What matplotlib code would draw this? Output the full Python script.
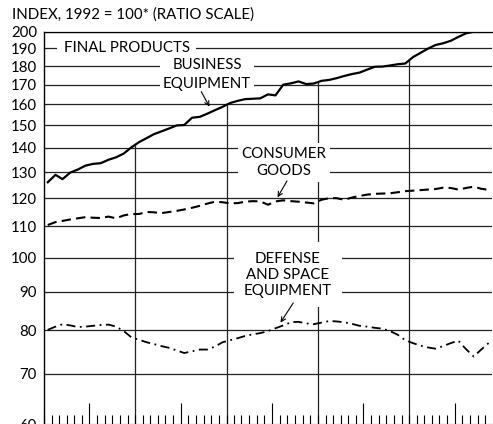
import numpy as np
import pandas as pd
import matplotlib
matplotlib.use('Agg')
from matplotlib import pyplot as plt
import matplotlib.dates as mdates
from matplotlib.ticker import FixedLocator, NullLocator, FixedFormatter

plt.rcParams['font.family'] = ['Lato', 'DejaVu Sans']

# monthly data, Jan 1993 - Nov 1997 (index, 1992 = 100)
dates = pd.date_range('1993-01-01', '1997-11-01', freq='MS') + pd.Timedelta(days=15)

business = [126.0, 128.9, 127.2, 129.8, 131.0, 132.6, 133.3, 133.6, 135.0, 136.0,
            137.6, 140.2, 142.5, 144.3, 146.0, 147.3, 148.6, 150.0, 150.2, 153.6,
            154.0, 155.5, 157.2, 158.8, 160.7, 161.8, 162.6, 162.8, 163.0, 165.0,
            164.5, 170.0, 170.7, 171.7, 170.3, 170.6, 172.0, 172.5, 173.4, 174.6,
            175.6, 176.4, 178.0, 179.6, 179.7, 180.3, 181.0, 181.4, 185.0, 187.5,
            189.8, 192.0, 193.0, 194.5, 196.8, 199.0, 200.0, 200.0, 200.0]

consumer = [110.5, 111.5, 111.9, 112.4, 112.8, 113.2, 113.0, 112.9, 113.4, 112.8,
            113.8, 114.3, 114.3, 115.0, 114.9, 114.6, 115.0, 115.4, 115.9, 116.5,
            117.2, 118.0, 118.7, 118.5, 118.1, 118.2, 118.7, 118.9, 118.8, 117.6,
            118.8, 119.2, 118.9, 118.7, 118.4, 118.1, 119.4, 120.0, 120.0, 119.4,
            120.2, 120.8, 121.3, 121.6, 121.7, 121.8, 122.2, 122.6, 122.8, 123.0,
            123.2, 123.4, 123.9, 123.8, 123.2, 123.8, 124.3, 123.5, 123.1]

defense = [80.1, 80.9, 81.5, 81.2, 80.8, 80.9, 81.1, 81.3, 81.4, 80.9,
           79.8, 78.3, 77.7, 77.1, 76.7, 76.2, 75.8, 75.2, 74.6, 75.0,
           75.4, 75.4, 76.1, 77.1, 77.6, 78.1, 78.6, 79.0, 79.3, 79.8,
           80.5, 81.2, 82.0, 82.1, 81.7, 81.5, 81.9, 82.3, 82.2, 82.0,
           81.6, 81.1, 80.9, 80.6, 80.4, 79.8, 78.9, 77.6, 76.9, 76.3,
           75.9, 75.6, 76.2, 76.9, 77.5, 75.5, 73.8, 75.4, 77.0]

y_ticks = [60, 70, 80, 90, 100, 110, 120, 130, 140, 150, 160, 170, 180, 190, 200]
year_starts = pd.to_datetime(['1994-01-01', '1995-01-01', '1996-01-01', '1997-01-01'])

fig = plt.figure(figsize=(4.93, 4.24), dpi=100)
ax = fig.add_axes([44 / 493, 0, 448 / 493, (424 - 31.7) / 424])
ax.set_yscale('log')
ax.set_ylim(60, 200)
ax.set_xlim(pd.Timestamp('1993-01-01'), pd.Timestamp('1997-11-28'))

# horizontal rules
for v in y_ticks[1:]:
    ax.axhline(v, color='#222222', lw=0.9, zorder=1)

# year rules run from the bottom up to the business equipment line
xn = mdates.date2num(dates)
tops = np.interp(mdates.date2num(year_starts), xn, business)
ax.vlines(year_starts, 60, tops, color='#222222', lw=0.9, zorder=1)

ax.plot(dates, business, color='black', lw=1.6, zorder=3)
ax.plot(dates, consumer, color='black', lw=1.5, ls=(0, (4.5, 2.5)), zorder=3)
ax.plot(dates, defense, color='black', lw=1.3, ls=(0, (5, 2.5, 1, 2.5)), zorder=3)

fs = 10.8

ax.yaxis.set_major_locator(FixedLocator(y_ticks))
ax.yaxis.set_major_formatter(FixedFormatter([str(t) for t in y_ticks]))
ax.yaxis.set_minor_locator(NullLocator())
ax.tick_params(axis='y', length=0, pad=5, labelsize=fs)

ax.xaxis.set_major_locator(mdates.MonthLocator(bymonth=7))
ax.xaxis.set_minor_locator(mdates.MonthLocator())
ax.xaxis.set_major_formatter(plt.NullFormatter())
ax.tick_params(axis='x', which='major', direction='in', length=15, width=0.8)
ax.tick_params(axis='x', which='minor', direction='in', length=6.5, width=0.8)

ax.spines['right'].set_visible(False)
ax.spines['top'].set_linewidth(0.9)
ax.spines['left'].set_linewidth(1.0)


def label(text, x, y, pad=0.35, spacing=1.2):
    ax.text(pd.Timestamp(x), y, text, ha='center', va='center', fontsize=fs,
            linespacing=spacing, multialignment='center', zorder=2,
            bbox=dict(facecolor='white', edgecolor='none',
                      boxstyle=f'square,pad={pad}'))


label('FINAL PRODUCTS', '1993-11-27', 190.5, pad=0.45)
label('BUSINESS\nEQUIPMENT', '1994-10-15', 175.4, pad=0.2, spacing=1.38)
label('CONSUMER\nGOODS', '1995-08-18', 133.9, pad=0.25, spacing=1.25)
label('DEFENSE\nAND SPACE\nEQUIPMENT', '1995-09-03', 94.8, pad=0.65, spacing=1.16)

arrow = dict(arrowstyle='->', color='black', lw=0.8, shrinkA=0, shrinkB=0,
             mutation_scale=8)
ax.annotate('', xy=(pd.Timestamp('1994-10-25'), 158.9),
            xytext=(pd.Timestamp('1994-09-22'), 166.4), arrowprops=arrow, zorder=4)
ax.annotate('', xy=(pd.Timestamp('1995-07-24'), 120.3),
            xytext=(pd.Timestamp('1995-08-31'), 126.5), arrowprops=arrow, zorder=4)
ax.annotate('', xy=(pd.Timestamp('1995-08-05'), 81.9),
            xytext=(pd.Timestamp('1995-09-25'), 87.0), arrowprops=arrow, zorder=4)

fig.text(12 / 493, 1 - 15 / 424, 'INDEX, 1992 = 100* (RATIO SCALE)', fontsize=fs,
         ha='left', va='center')

fig.savefig('out.png', dpi=100)
